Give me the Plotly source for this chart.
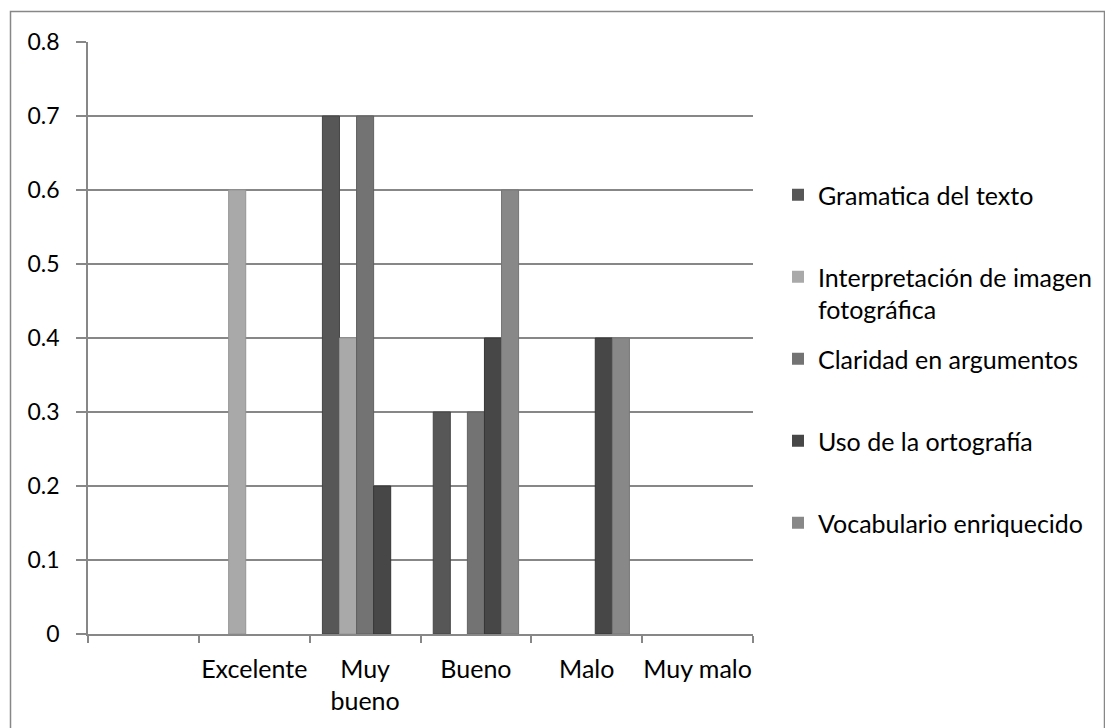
import plotly.graph_objects as go

categories = [" ", "Excelente", "Muy<br>bueno", "Bueno", "Malo", "Muy malo"]
series_names = [
    "Gramatica del texto",
    "Interpretación de imagen<br>fotográfica",
    "Claridad en argumentos",
    "Uso de la ortografía",
    "Vocabulario enriquecido",
]
gramatica = [0, 0, 0.7, 0.3, 0, 0]
interpretacion = [0, 0.6, 0.4, 0, 0, 0]
claridad = [0, 0, 0.7, 0.3, 0, 0]
ortografia = [0, 0, 0.2, 0.4, 0.4, 0]
vocabulario = [0, 0, 0, 0.6, 0.4, 0]
series_values = [gramatica, interpretacion, claridad, ortografia, vocabulario]
colors = ["#575757", "#a9a9a9", "#737373", "#474747", "#888888"]
edge_colors = ["#454545", "#959595", "#616161", "#363636", "#767676"]
y_ticks = [0, 0.1, 0.2, 0.3, 0.4, 0.5, 0.6, 0.7, 0.8]

FONT = "Lato"
TXT = 25
fig = go.Figure()
for i, (name, vals) in enumerate(zip(series_names, series_values)):
    label = name if "<br>" in name else name + "<br> "
    fig.add_trace(go.Bar(
        x=categories, y=vals, name=label,
        legendgroup=f"g{i}",
        marker=dict(color=colors[i],
                    line=dict(color=edge_colors[i],
                              width=[1 if v else 0 for v in vals])),
    ))

W, H = 1105, 728
L, R, T, B = 88, 352, 42, 94
pw, ph = W - L - R, H - T - B

def px_x(x):
    return (x - L) / pw

def px_y(y):
    return (H - B - y) / ph

fig.update_layout(
    width=W, height=H,
    margin=dict(l=L, r=R, t=T, b=B, autoexpand=False),
    paper_bgcolor="white", plot_bgcolor="white",
    barmode="group", bargap=0.23, bargroupgap=0,
    font=dict(family=FONT, size=TXT, color="black"),
    showlegend=True,
    legend=dict(
        x=px_x(778), xanchor="left", y=px_y(172), yanchor="top",
        valign="top", tracegroupgap=14,
        font=dict(family=FONT, size=TXT, color="black"),
        bgcolor="rgba(0,0,0,0)",
    ),
    xaxis=dict(
        type="category", categoryorder="array", categoryarray=categories,
        showline=True, linecolor="#878787", linewidth=1.5,
        ticks="outside", ticklen=7, tickcolor="#878787", tickwidth=1.5,
        tickson="boundaries", showgrid=False, zeroline=False,
        tickangle=0, ticklabelstandoff=12,
        tickfont=dict(family=FONT, size=TXT, color="black"),
    ),
    yaxis=dict(
        range=[0, 0.8], tickvals=y_ticks, ticktext=[f"{v:g}" for v in y_ticks],
        showline=True, linecolor="#878787", linewidth=1.5,
        ticks="outside", ticklen=10, tickcolor="#878787", tickwidth=1.5,
        showgrid=True, gridcolor="#878787", gridwidth=1.5, zeroline=False,
        ticklabelstandoff=12,
        tickfont=dict(family=FONT, size=23, color="black"),
    ),
    shapes=[dict(
        type="rect", xref="paper", yref="paper",
        x0=px_x(10.5), x1=px_x(1104.5), y0=px_y(740), y1=px_y(11.5),
        line=dict(color="#878787", width=1.5), fillcolor="rgba(0,0,0,0)", layer="below",
    )],
)

fig.write_html("out.html", config={"displayModeBar": False},
               post_script="document.body.style.margin='0';document.body.style.overflow='hidden';")
